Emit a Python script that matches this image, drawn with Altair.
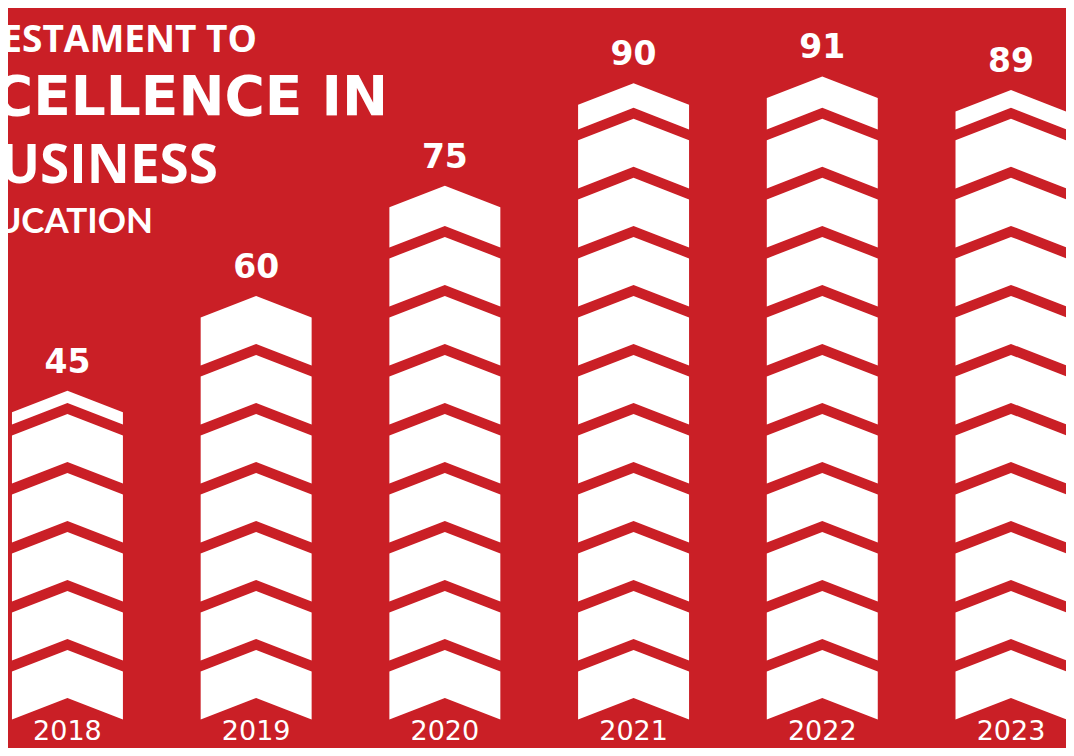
import math
import altair as alt
import pandas as pd

# ---- data ----
years = [2018, 2019, 2020, 2021, 2022, 2023]
values = [45, 60, 75, 90, 91, 89]
year_labels = ["2018", "2019", "2020", "2021", "2022", "2023"]
title_lines = ["TESTAMENT TO", "EXCELLENCE IN", "BUSINESS", "EDUCATION"]

# ---- style constants ----
BG = "#CA1F26"
UNIT = 8.64   # value represented by one chevron slot
FILL = 7.03   # chevron thickness (value units)
DROP = 3.15   # wing drop of a chevron (value units)
HALF = 0.294  # half chevron width (years)

rows = []
tops = []
for yr, v in zip(years, values):
    n = math.ceil(v / UNIT)
    top_drawn = 0.0
    for i in range(n):
        b = i * UNIT
        t = min(b + FILL, v)
        if t <= b:
            continue
        top_drawn = t
        for dx in (-HALF, 0.0, HALF):
            f = abs(dx) / HALF
            rows.append({"cid": f"{yr}-{i}", "x": yr + dx,
                         "y": t - DROP * f, "y2": b - DROP * f})
    tops.append(top_drawn)

chev = pd.DataFrame(rows)
vals = pd.DataFrame({"year": years, "value": values, "top": tops,
                     "label": year_labels})

xs = alt.Scale(domain=[2017.685, 2023.2915], nice=False, zero=False)
ys = alt.Scale(domain=[-7.32, 101.02], nice=False, zero=False)

areas = alt.Chart(chev).mark_area(color="white", interpolate="linear").encode(
    x=alt.X("x:Q", scale=xs, axis=None),
    y=alt.Y("y:Q", scale=ys, axis=None),
    y2="y2:Q",
    detail="cid:N",
)

value_text = alt.Chart(vals).mark_text(
    color="white", font="DejaVu Sans", fontWeight="bold", fontSize=33,
    baseline="alphabetic", align="center", dy=-18,
).encode(
    x=alt.X("year:Q", scale=xs, axis=None),
    y=alt.Y("top:Q", scale=ys, axis=None),
    text="value:Q",
)

year_text = alt.Chart(vals).mark_text(
    color="white", font="DejaVu Sans", fontSize=27,
    baseline="alphabetic", align="center",
).encode(
    x=alt.X("year:Q", scale=xs, axis=None),
    y=alt.value(732),
    text="label:N",
)


def title_line(txt, x, y, font, size):
    return alt.Chart(pd.DataFrame({"line": [txt]})).mark_text(
        color="white", font=font, fontWeight="bold", fontSize=size,
        baseline="alphabetic", align="right",
    ).encode(x=alt.value(x), y=alt.value(y), text="line:N")


t1 = title_line(title_lines[0], 249, 44, "Open Sans", 37)
t2 = title_line(title_lines[1], 380, 107, "DejaVu Sans", 55)
t3 = title_line(title_lines[2], 210, 175, "Open Sans", 53)
t4 = title_line(title_lines[3], 145, 225, "Lato", 35)

chart = alt.layer(areas, value_text, year_text, t1, t2, t3, t4).properties(
    width=1058, height=740, background=BG, padding=0,
    autosize=alt.AutoSizeParams(type="none"),
).configure_view(stroke=None)

chart.save("out.html", embed_options={"renderer": "svg", "actions": False})
